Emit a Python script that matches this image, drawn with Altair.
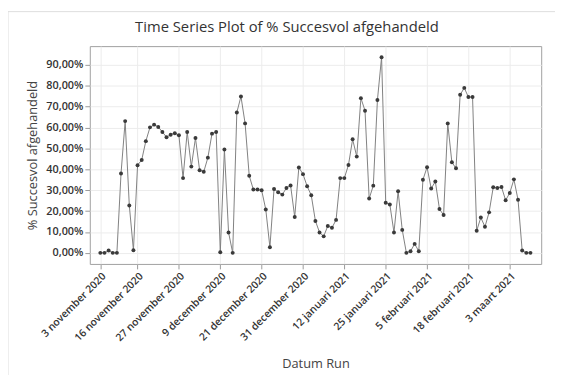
import altair as alt
import pandas as pd
import json

values = [0, 0, 1.1, 0, 0, 38.0, 63.1, 22.7, 1.3, 42.0,
          44.5, 53.5, 60.1, 61.4, 60.3, 57.9, 55.4, 56.6, 57.3, 56.3,
          35.8, 57.9, 41.3, 55.0, 39.6, 38.8, 45.6, 57.1, 57.9, 0.3,
          49.5, 9.8, 0, 67.2, 74.9, 62.0, 36.9, 30.3, 30.3, 30.0,
          20.8, 2.7, 30.6, 29.0, 27.9, 31.1, 32.3, 17.2, 40.9, 37.7,
          31.9, 27.6, 15.3, 9.8, 7.9, 12.9, 12.0, 15.8, 35.8, 35.8,
          42.1, 54.4, 46.1, 74.1, 68.1, 26.0, 32.2, 73.2, 93.7, 24.0,
          23.2, 9.8, 29.5, 11.0, 0, 0.8, 4.3, 0.8, 35.0, 41.0,
          30.8, 34.2, 21.0, 18.1, 62.0, 43.4, 40.5, 75.7, 79.0, 74.6,
          74.6, 10.6, 16.9, 12.5, 19.4, 31.4, 31.1, 31.5, 25.2, 28.7,
          35.2, 25.4, 1.1, 0, 0]
index = list(range(1, len(values) + 1))

tick_index = [1, 10, 20, 30, 40, 50, 60, 70, 80, 90, 100]
tick_labels = ["3 november 2020", "16 november 2020", "27 november 2020",
               "9 december 2020", "21 december 2020", "31 december 2020",
               "12 januari 2021", "25 januari 2021", "5 februari 2021",
               "18 februari 2021", "3 maart 2021"]
y_ticks = [0, 10, 20, 30, 40, 50, 60, 70, 80, 90]

df = pd.DataFrame({"idx": index, "val": values})

label_expr = f"{json.dumps(tick_labels)}[indexof({json.dumps(tick_index)}, datum.value)]"

FONT = "Open Sans"

x = alt.X("idx:Q", scale=alt.Scale(domain=[-1.55, 107.6], nice=False, zero=False),
          axis=alt.Axis(values=tick_index, labelExpr=label_expr, labelAngle=-45,
                        labelAlign="right", labelBaseline="top", labelFontSize=10.5,
                        labelFont=FONT, labelFontWeight=600, labelColor="#333333",
                        labelPadding=2, tickSize=5, tickColor="#999999",
                        domain=False, grid=True, gridColor="#ececec",
                        title="Datum Run", titleFont=FONT, titleFontSize=13,
                        titleFontWeight="normal", titleColor="#444444",
                        titleBaseline="top", titleY=95,
                        labelOverlap=False))
y = alt.Y("val:Q", scale=alt.Scale(domain=[-5.3, 99.0], nice=False, zero=False),
          axis=alt.Axis(values=y_ticks,
                        labelExpr="replace(format(datum.value, '.2f'), '.', ',') + '%'",
                        labelFontSize=11, labelFont=FONT, labelFontWeight=600,
                        labelColor="#333333", labelPadding=2, tickSize=5,
                        tickColor="#999999", domain=False, grid=True, gridColor="#ececec",
                        title="% Succesvol afgehandeld", titleFont=FONT, titleFontSize=13,
                        titleFontWeight="normal", titleColor="#444444", titlePadding=6))

line = alt.Chart(df).mark_line(color="#808080", strokeWidth=1).encode(x=x, y=y)
pts = alt.Chart(df).mark_circle(color="#3a3a3a", size=16, opacity=1).encode(x=x, y=y)

border = alt.Chart(pd.DataFrame({"a": [0]})).mark_rect(
    fill=None, stroke="#dddddd", strokeWidth=1).encode(
    x=alt.value(-83), x2=alt.value(620), y=alt.value(-35), y2=alt.value(420))

chart = alt.layer(border, line, pts).properties(
    width=458, height=221,
    autosize=alt.AutoSizeParams(type="none"),
    padding={"left": 83, "top": 36, "right": 14, "bottom": 110},
    title=alt.TitleParams("Time Series Plot of % Succesvol afgehandeld",
                          font=FONT, fontSize=15, fontWeight="normal",
                          color="#333333", anchor="middle", frame="group",
                          dx=-29, dy=42, offset=18),
).configure_view(stroke="#a0a0a0", strokeWidth=1)

chart.save("out.html", embed_options={"renderer": "svg", "actions": False})
